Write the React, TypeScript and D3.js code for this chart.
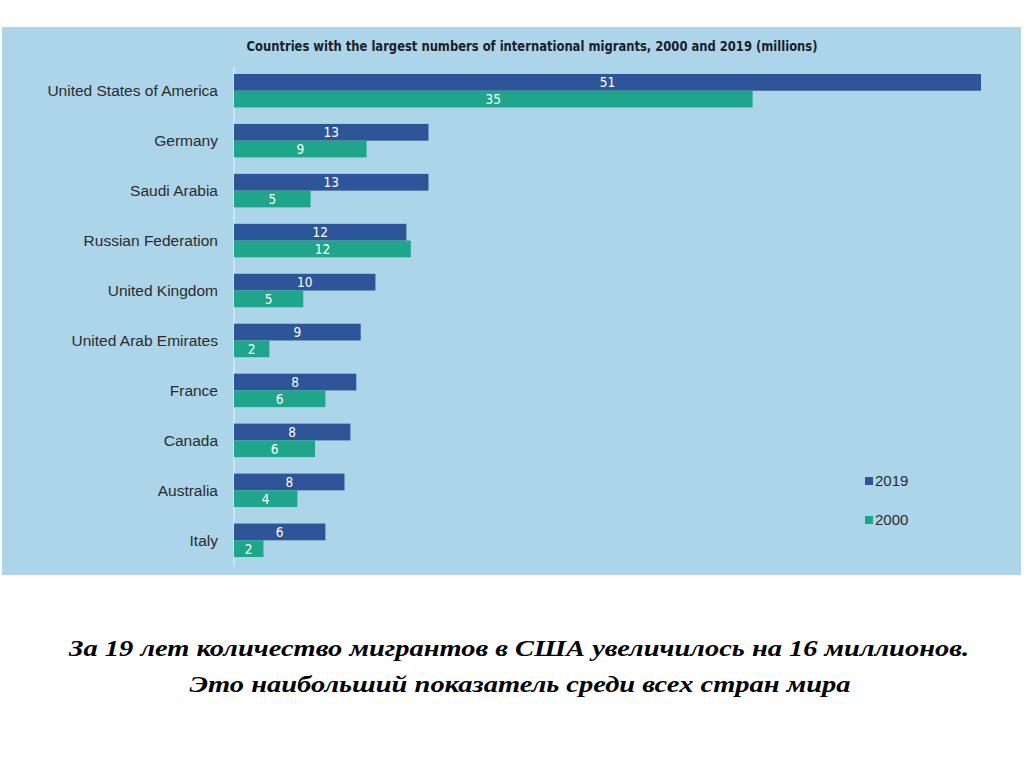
import React from "react";
import * as d3 from "d3";

const countries = [
  "United States of America",
  "Germany",
  "Saudi Arabia",
  "Russian Federation",
  "United Kingdom",
  "United Arab Emirates",
  "France",
  "Canada",
  "Australia",
  "Italy",
];
const values2019 = [50.7, 13.2, 13.2, 11.7, 9.6, 8.6, 8.3, 7.9, 7.5, 6.2];
const values2000 = [35.2, 9.0, 5.2, 12.0, 4.7, 2.4, 6.2, 5.5, 4.3, 2.0];
const seriesNames = ["2019", "2000"];
const title = "Countries with the largest numbers of international migrants, 2000 and 2019 (millions)";
const caption1 = "За 19 лет количество мигрантов в США увеличилось на 16 миллионов.";
const caption2 = "Это наибольший показатель среди всех стран мира";

const W = 1024;
const H = 767;
const C2019 = "#2e5597";
const C2000 = "#1fa58a";
const BG = "#acd5ea";

export default function App() {
  const x = d3.scaleLinear().domain([0, 50.7]).range([234, 981]);
  const y = d3
    .scaleBand<string>()
    .domain(countries)
    .range([66, 565])
    .paddingInner(0.33)
    .paddingOuter(0.16);
  const bw = y.bandwidth() / 2;
  const fmt = d3.format(".0f");
  const series = [values2019, values2000];
  const colors = [C2019, C2000];

  return (
    <svg
      width={W}
      height={H}
      style={{ position: "absolute", left: 0, top: 0, background: "#fff" }}
    >
      <rect x={2} y={27} width={1019} height={548} fill={BG} />
      <text
        x={532}
        y={51}
        textAnchor="middle"
        fontFamily="'DejaVu Sans Condensed', 'Liberation Sans Narrow', sans-serif"
        fontWeight="bold"
        fontSize={13.5}
        fill="#1a1f2b"
        textLength={571}
        lengthAdjust="spacingAndGlyphs"
      >
        {title}
      </text>
      <line x1={x(0)} x2={x(0)} y1={67} y2={566} stroke="#e8f3f9" strokeWidth={1} />
      {countries.map((c, i) => (
        <g key={c}>
          <text
            x={218}
            y={(y(c) as number) + bw}
            dy="0.35em"
            textAnchor="end"
            fontFamily="'Liberation Sans', Arial, sans-serif"
            fontSize={15.5}
            fill="#2b2b2b"
          >
            {c}
          </text>
          {series.map((vals, s) => {
            const y0 = (y(c) as number) + s * bw;
            return (
              <g key={s}>
                <rect
                  x={x(0)}
                  y={y0}
                  width={x(vals[i]) - x(0)}
                  height={bw}
                  fill={colors[s]}
                />
                <text
                  x={(x(0) + x(vals[i])) / 2}
                  y={y0 + bw / 2}
                  dy="0.36em"
                  textAnchor="middle"
                  fontFamily="'DejaVu Sans Condensed', 'Liberation Sans Narrow', sans-serif"
                  fontSize={13.5}
                  fill="#ffffff"
                >
                  {fmt(vals[i])}
                </text>
              </g>
            );
          })}
        </g>
      ))}
      {seriesNames.map((s, i) => (
        <g key={s}>
          <rect x={865} y={477 + i * 39} width={8} height={8} fill={colors[i]} />
          <text
            x={875}
            y={481 + i * 39}
            dy="0.36em"
            fontFamily="'Liberation Sans', Arial, sans-serif"
            fontSize={15}
            fill="#2b2b2b"
          >
            {s}
          </text>
        </g>
      ))}
      <text
        x={519}
        y={656}
        textAnchor="middle"
        fontFamily="'Liberation Serif', 'Times New Roman', serif"
        fontWeight="bold"
        fontStyle="italic"
        fontSize={24}
        fill="#000"
        textLength={900}
        lengthAdjust="spacingAndGlyphs"
      >
        {caption1}
      </text>
      <text
        x={520}
        y={692}
        textAnchor="middle"
        fontFamily="'Liberation Serif', 'Times New Roman', serif"
        fontWeight="bold"
        fontStyle="italic"
        fontSize={24}
        fill="#000"
        textLength={661}
        lengthAdjust="spacingAndGlyphs"
      >
        {caption2}
      </text>
    </svg>
  );
}
